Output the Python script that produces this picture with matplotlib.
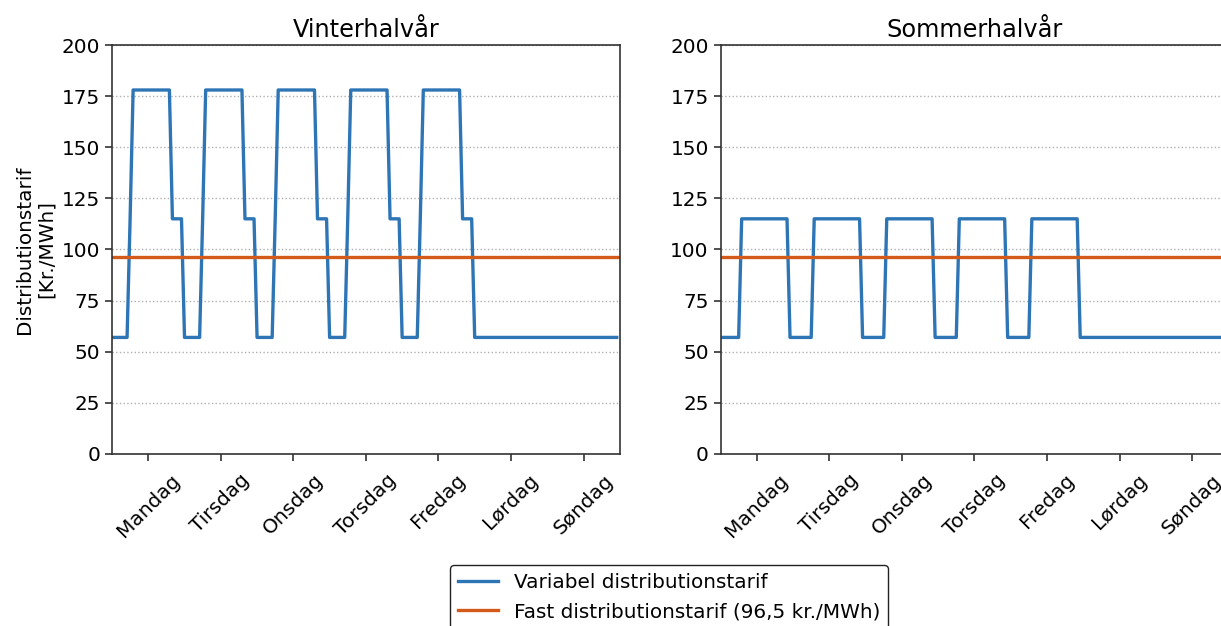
import numpy as np
import matplotlib
matplotlib.use("Agg")
import matplotlib.pyplot as plt

# hourly tariff per day (kr./MWh), hour 0..23
winter_weekday = [57, 57, 57, 57, 57, 57, 115,
                  178, 178, 178, 178, 178, 178, 178, 178, 178, 178, 178, 178, 178,
                  115, 115, 115, 115]
summer_weekday = [57, 57, 57, 57, 57, 57, 57,
                  115, 115, 115, 115, 115, 115, 115, 115,
                  115, 115, 115, 115, 115, 115, 115, 115,
                  57]
weekend = [57] * 24
fixed_tariff = 96.5

days = ['Mandag', 'Tirsdag', 'Onsdag', 'Torsdag', 'Fredag', 'Lørdag', 'Søndag']
seasons = ['Vinterhalvår', 'Sommerhalvår']

winter_week = winter_weekday * 5 + weekend * 2
summer_week = summer_weekday * 5 + weekend * 2
hours = np.arange(len(winter_week))

plt.rcParams['font.family'] = ['DejaVu Sans']
plt.rcParams['font.size'] = 14.4

blue = '#2e75b6'
orange = '#d35a18'

fig = plt.figure(figsize=(12.21, 6.26), dpi=100)
ax1 = fig.add_axes([0.0917, 0.2748, 0.4159, 0.6533])
ax2 = fig.add_axes([0.5901, 0.2748, 0.4159, 0.6533])

for ax, title, week in zip([ax1, ax2], seasons, [winter_week, summer_week]):
    ax.plot(hours, week, color=blue, lw=2.4, label='Variabel distributionstarif')
    ax.axhline(fixed_tariff, color=orange, lw=2.4,
               label='Fast distributionstarif (96,5 kr./MWh)')
    ax.set_xlim(0, 168)
    ax.set_ylim(0, 200)
    ax.set_yticks(np.arange(0, 201, 25))
    ax.set_xticks(np.arange(12, 168, 24))
    ax.set_xticklabels(days, rotation=45)
    ax.yaxis.grid(True, linestyle=':', color='#b0b0b0', lw=1)
    ax.set_axisbelow(True)
    ax.set_title(title, fontsize=17.3)
    for s in ax.spines.values():
        s.set_color('#333333')
        s.set_linewidth(1.2)
    ax.tick_params(color='#333333', length=5, width=1.2)
    ax.tick_params(axis='x', pad=7)

ax1.set_ylabel('Distributionstarif\n[Kr./MWh]')

handles, labels = ax1.get_legend_handles_labels()
leg = fig.legend(handles, labels, loc='upper center', bbox_to_anchor=(0.548, 0.113),
                 frameon=True, framealpha=1, edgecolor='#222222', fancybox=True)

fig.savefig('out.png', dpi=100)
